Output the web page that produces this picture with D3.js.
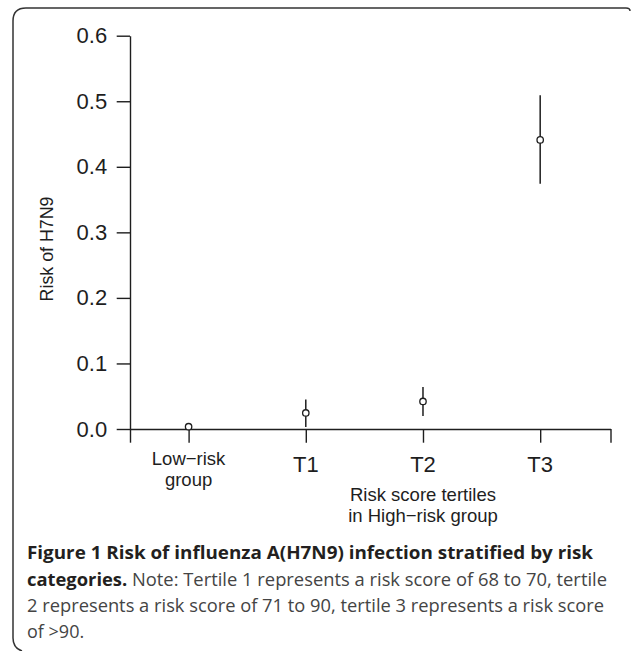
<!DOCTYPE html>
<html>
<head>
<meta charset="utf-8">
<script src="https://cdn.jsdelivr.net/npm/d3@7"></script>
<style>
  body { margin: 0; background: #fff; }
  svg { display: block; }
</style>
</head>
<body>
<script>
const W = 632
const H = 651
const ink = '#1e1e1e'
const chartFont = '"Liberation Sans", Arial, Helvetica, sans-serif'
const capFont = '"Open Sans", "Noto Sans", sans-serif'

// data
const categories = ['Low−risk group', 'T1', 'T2', 'T3']
const catPos = [1, 2, 3, 4]
const risk = [0.0035, 0.0245, 0.042, 0.441]
const lower = [0.001, 0.003, 0.020, 0.374]
const upper = [0.007, 0.045, 0.064, 0.509]
const yTicks = [0, 0.1, 0.2, 0.3, 0.4, 0.5, 0.6]
const xTicks = [0.5, 1, 2, 3, 4, 4.6]

let x = d3.scaleLinear().domain([0.5, 4.6]).range([130, 610.5])
let y = d3.scaleLinear().domain([0, 0.6]).range([429, 35.7])

let svg = d3.select('body')
            .append('svg')
            .attr('width', W)
            .attr('height', H)

// frame with rounded corners
svg.append('path')
   .attr('d', 'M630,11 Q630,8 626,8 L26,8 Q13,8 13,21 L13,638 Q13,648 22,651')
   .attr('fill', 'none')
   .attr('stroke', '#333')
   .attr('stroke-width', 1.5)

let yAxis = d3.axisLeft(y)
              .tickValues(yTicks)
              .tickFormat(d3.format('.1f'))
              .tickSize(13.3)
              .tickSizeOuter(0)
              .tickPadding(9.5)

let xAxis = d3.axisBottom(x)
              .tickValues(xTicks)
              .tickFormat('')
              .tickSize(13.7)
              .tickSizeOuter(0)

let gy = svg.append('g')
            .attr('transform', `translate(${x(0.5)}, 0)`)
            .call(yAxis)
gy.selectAll('text')
  .attr('font-family', chartFont)
  .attr('font-size', 22)
  .attr('fill', ink)

let gx = svg.append('g')
            .attr('transform', `translate(0, ${y(0)})`)
            .call(xAxis)

svg.selectAll('.domain, .tick line')
   .attr('stroke', ink)
   .attr('stroke-width', 1.4)

// category labels
categories.forEach((c, i) => {
  let t = svg.append('text')
             .attr('text-anchor', 'middle')
             .attr('font-family', chartFont)
             .attr('fill', ink)
  if (i === 0) {
    t.attr('font-size', 18.5)
    t.append('tspan').attr('x', x(catPos[i])).attr('y', 465).text('Low−risk')
    t.append('tspan').attr('x', x(catPos[i])).attr('y', 486).text('group')
  } else {
    t.attr('font-size', 22)
     .attr('x', x(catPos[i]))
     .attr('y', 471.5)
     .text(c)
  }
})

let xt = svg.append('text')
            .attr('text-anchor', 'middle')
            .attr('font-family', chartFont)
            .attr('font-size', 18.5)
            .attr('fill', ink)
xt.append('tspan').attr('x', x(3)).attr('y', 500.7).text('Risk score tertiles')
xt.append('tspan').attr('x', x(3)).attr('y', 521.7).text('in High−risk group')

svg.append('text')
   .attr('transform', `translate(53.3, 249) rotate(-90)`)
   .attr('text-anchor', 'middle')
   .attr('font-family', chartFont)
   .attr('font-size', 17.8)
   .attr('fill', ink)
   .text('Risk of H7N9')

// confidence intervals and point estimates
svg.selectAll('.ci')
   .data(risk)
   .enter()
   .append('line')
   .attr('x1', (d, i) => x(catPos[i]))
   .attr('x2', (d, i) => x(catPos[i]))
   .attr('y1', (d, i) => y(lower[i]))
   .attr('y2', (d, i) => y(upper[i]))
   .attr('stroke', ink)
   .attr('stroke-width', 1.5)

svg.selectAll('.pt')
   .data(risk)
   .enter()
   .append('circle')
   .attr('cx', (d, i) => x(catPos[i]))
   .attr('cy', d => y(d))
   .attr('r', 3.2)
   .attr('fill', '#fff')
   .attr('stroke', ink)
   .attr('stroke-width', 1.3)

// caption
const capLines = [
  {y: 559, len: 566, parts: [['Figure 1 Risk of influenza A(H7N9) infection stratified by risk', 700]]},
  {y: 585.5, len: 580, parts: [['categories.', 700], [' Note: Tertile 1 represents a risk score of 68 to 70, tertile', 400]]},
  {y: 612, len: 577, parts: [['2 represents a risk score of 71 to 90, tertile 3 represents a risk score', 400]]},
  {y: 638, len: null, parts: [['of >90.', 400]]}
]

capLines.forEach(l => {
  let t = svg.append('text')
             .attr('x', 27)
             .attr('y', l.y)
             .attr('font-family', capFont)
             .attr('font-size', 18)
  if (l.len) t.attr('textLength', l.len).attr('lengthAdjust', 'spacingAndGlyphs')
  l.parts.forEach(p => {
    t.append('tspan')
     .attr('font-weight', p[1])
     .attr('fill', p[1] === 700 ? '#231f20' : '#444')
     .text(p[0])
  })
})
</script>
</body>
</html>
